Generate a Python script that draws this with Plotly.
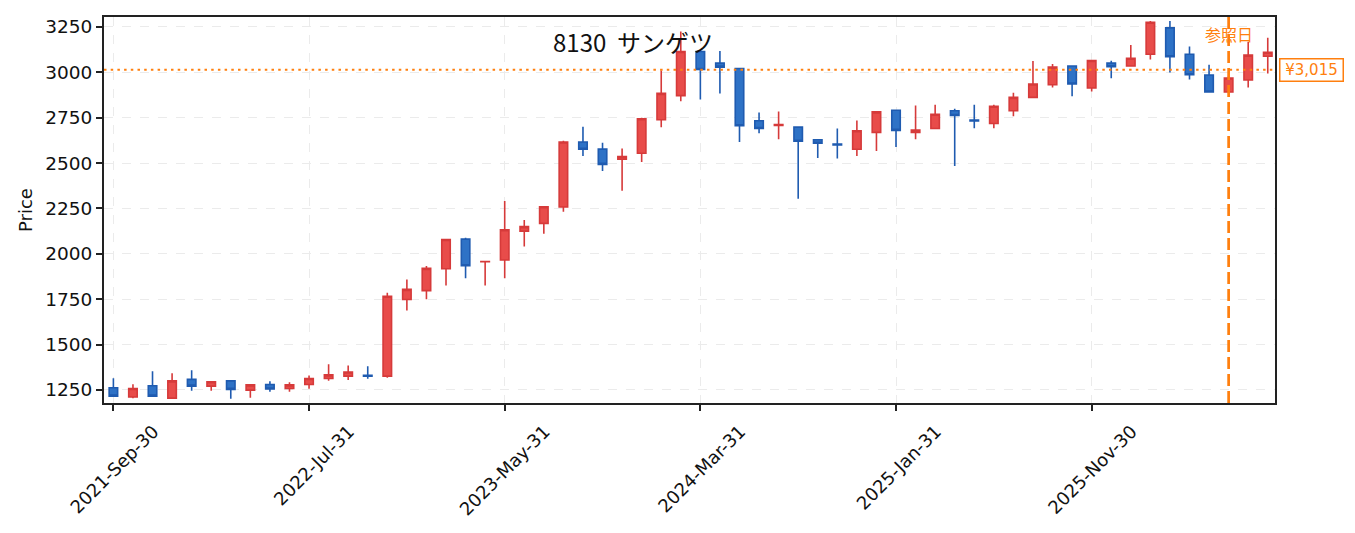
import pandas as pd
import plotly.graph_objects as go

dates = [d.strftime("%Y-%b-%d") for d in pd.date_range("2021-09-30", periods=60, freq="ME")]

open_ = [1262, 1211, 1273, 1205, 1308, 1271, 1300, 1249, 1280, 1258,
         1280, 1313, 1326, 1330, 1326, 1748, 1797, 1918, 2081, 1956,
         1966, 2125, 2168, 2258, 2616, 2577, 2521, 2554, 2739, 2872,
         3115, 3051, 3021, 2733, 2708, 2698, 2629, 2605, 2576, 2669,
         2791, 2669, 2691, 2788, 2737, 2718, 2788, 2862, 2932, 3035,
         2914, 3051, 3035, 3100, 3245, 3100, 2985, 2892, 2958, 3089]
high = [1315, 1282, 1353, 1342, 1359, 1296, 1301, 1279, 1298, 1293,
        1330, 1392, 1384, 1381, 1785, 1858, 1933, 2081, 2088, 1960,
        2291, 2187, 2261, 2623, 2700, 2612, 2580, 2750, 3010, 3225,
        3118, 3117, 3023, 2779, 2784, 2700, 2631, 2691, 2735, 2784,
        2793, 2817, 2822, 2799, 2822, 2822, 2888, 3062, 3046, 3037,
        3067, 3064, 3151, 3283, 3283, 3142, 3042, 2981, 3168, 3190]
low = [1214, 1204, 1214, 1205, 1245, 1245, 1201, 1207, 1240, 1240,
       1256, 1300, 1305, 1311, 1317, 1688, 1750, 1826, 1865, 1826,
       1865, 2040, 2111, 2232, 2539, 2457, 2347, 2506, 2698, 2841,
       2851, 2884, 2616, 2665, 2632, 2303, 2528, 2525, 2539, 2566,
       2588, 2632, 2689, 2484, 2692, 2692, 2758, 2858, 2917, 2868,
       2895, 2967, 3033, 3071, 2999, 2961, 2890, 2890, 2917, 2994]
close = [1216, 1258, 1216, 1300, 1271, 1295, 1253, 1278, 1255, 1278,
         1313, 1333, 1349, 1325, 1766, 1804, 1920, 2079, 1934, 1958,
         2133, 2150, 2259, 2616, 2576, 2493, 2536, 2744, 2884, 3115,
         3016, 3029, 2706, 2691, 2712, 2620, 2609, 2600, 2678, 2782,
         2680, 2682, 2769, 2762, 2732, 2813, 2862, 2936, 3029, 2936,
         3065, 3031, 3078, 3276, 3086, 2987, 2892, 2969, 3095, 3111]

y_ticks = [1250, 1500, 1750, 2000, 2250, 2500, 2750, 3000, 3250]
ref_price = 3015
ref_index = 57
ticker_title = "8130  サンゲツ"
tick_step = 10

CJK = "Noto Sans CJK JP"
LAT = "DejaVu Sans"
ORANGE = "#ff7f0e"

fig = go.Figure()
fig.add_trace(go.Candlestick(
    x=dates, open=open_, high=high, low=low, close=close,
    increasing=dict(line=dict(color="#d63a3a", width=1.6), fillcolor="#e84c4a"),
    decreasing=dict(line=dict(color="#1f5bb0", width=1.6), fillcolor="#2e72c6"),
    whiskerwidth=0, showlegend=False, hoverinfo="x+y",
))

fig.add_shape(type="line", xref="paper", x0=0, x1=1, yref="y", y0=ref_price, y1=ref_price,
              line=dict(color=ORANGE, width=2, dash="2.5px,4.2px"), layer="above")
fig.add_shape(type="line", xref="x", x0=ref_index, x1=ref_index, yref="paper", y0=0, y1=1,
              line=dict(color=ORANGE, width=2.7, dash="12px,5px"), layer="above")

fig.add_annotation(x=0.452, y=0.9356, xref="paper", yref="paper", text=ticker_title,
                   showarrow=False, font=dict(family=CJK, size=24, color="#111"),
                   xanchor="center", yanchor="middle")
fig.add_annotation(x=ref_index, y=0.956, xref="x", yref="paper", text="参照日",
                   showarrow=False, font=dict(family=CJK, size=16, color=ORANGE),
                   xanchor="center", yanchor="middle")
fig.add_annotation(x=1.0, y=ref_price, xref="paper", yref="y", text=f"¥{ref_price:,}",
                   showarrow=False, font=dict(family=LAT, size=15, color=ORANGE),
                   xanchor="left", yanchor="middle", xshift=4, width=58, height=17,
                   bordercolor=ORANGE, borderwidth=1.5, borderpad=2, bgcolor="white")

fig.update_layout(
    width=1347, height=525,
    margin=dict(l=96, r=80, t=7, b=130),
    paper_bgcolor="white", plot_bgcolor="white",
    font=dict(family=LAT, size=18, color="#111"),
    boxgap=0.38,
)
fig.update_xaxes(
    type="category", rangeslider_visible=False,
    range=[-0.48, 59.37],
    tickmode="array", tickvals=dates[::tick_step], ticktext=dates[::tick_step],
    tickangle=-45, ticks="outside", ticklen=6, tickwidth=1.6, tickcolor="#222",
    ticklabelshift=40, ticklabelstandoff=3,
    showline=True, linecolor="#222", linewidth=1.8, mirror=True,
    showgrid=True, gridcolor="#ebebeb", griddash="dash", gridwidth=1.2,
    tickfont=dict(family=LAT, size=18),
)
fig.update_yaxes(
    range=[1178, 3305],
    tickmode="array", tickvals=y_ticks,
    ticks="outside", ticklen=6, tickwidth=1.6, tickcolor="#222",
    showline=True, linecolor="#222", linewidth=1.8, mirror=True,
    showgrid=True, gridcolor="#ebebeb", griddash="dash", gridwidth=1.2,
    zeroline=False,
    title=dict(text="Price", font=dict(family=LAT, size=18), standoff=8),
    tickfont=dict(family=LAT, size=18.5),
)

fig.write_html("out.html")
